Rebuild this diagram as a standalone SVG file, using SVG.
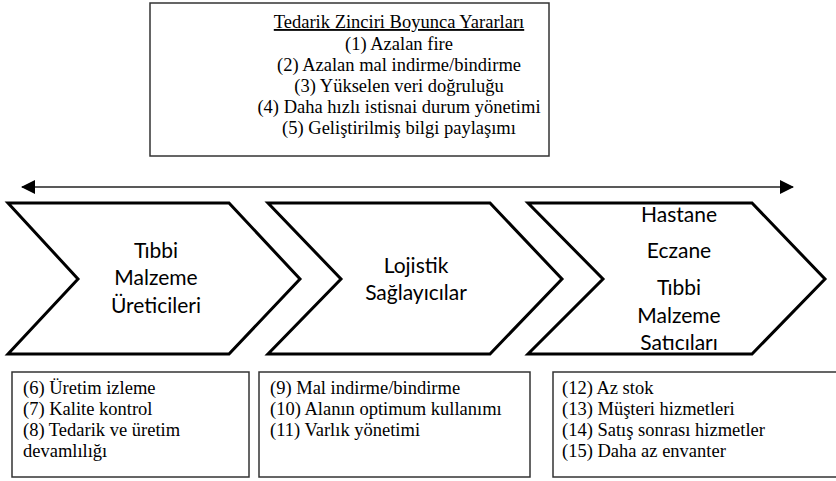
<svg xmlns="http://www.w3.org/2000/svg" width="836" height="481" viewBox="0 0 836 481">
  <defs>
    <marker id="head" viewBox="0 0 14 14" refX="13" refY="7" markerWidth="14" markerHeight="14" markerUnits="userSpaceOnUse" orient="auto-start-reverse">
      <path d="M0,0 L14,7 L0,14 Z" fill="#000"/>
    </marker>
    <style>
      .box { fill: #fff; stroke: #333; stroke-width: 1.5; }
      .chev { fill: #fff; stroke: #000; stroke-width: 3; stroke-linejoin: miter; }
      .top { font-size: 18.5px; text-anchor: middle; fill: #000; }
      .list { font-size: 18.5px; fill: #000; }
      .stage { font-size: 21px; fill: #000; text-anchor: middle; }
    </style>
  </defs>

  <!-- benefits across the supply chain -->
  <g id="benefits" font-family="Liberation Serif, Times New Roman, serif">
    <rect class="box" x="150" y="3" width="399" height="153"/>
    <text class="top" x="399" y="28" text-decoration="underline">Tedarik Zinciri Boyunca Yararları</text>
    <text class="top" x="399" y="50">(1) Azalan fire</text>
    <text class="top" x="399" y="71">(2) Azalan mal indirme/bindirme</text>
    <text class="top" x="399" y="92">(3) Yükselen veri doğruluğu</text>
    <text class="top" x="399" y="113">(4) Daha hızlı istisnai durum yönetimi</text>
    <text class="top" x="399" y="134">(5) Geliştirilmiş bilgi paylaşımı</text>
  </g>

  <!-- two-way flow arrow -->
  <g id="connectors">
    <line x1="22" y1="187" x2="793" y2="187" stroke="#222" stroke-width="1.5" marker-start="url(#head)" marker-end="url(#head)"/>
  </g>

  <!-- stage 1 -->
  <g id="manufacturers" font-family="Lato, Open Sans, sans-serif">
    <path class="chev" d="M8,203 L229,203 L300,279 L229,354 L8,354 L78,279 Z"/>
    <text class="stage" x="156" y="258">Tıbbi</text>
    <text class="stage" x="156" y="285">Malzeme</text>
    <text class="stage" x="156" y="313">Üreticileri</text>
  </g>

  <!-- stage 2 -->
  <g id="logistics" font-family="Lato, Open Sans, sans-serif">
    <path class="chev" d="M268,203 L490,203 L562,279 L490,354 L268,354 L341,279 Z"/>
    <text class="stage" x="416" y="273">Lojistik</text>
    <text class="stage" x="416" y="300">Sağlayıcılar</text>
  </g>

  <!-- stage 3 -->
  <g id="providers" font-family="Lato, Open Sans, sans-serif">
    <path class="chev" d="M528,203 L752,203 L825,279 L752,354 L528,354 L603,279 Z"/>
    <text class="stage" x="679" y="222">Hastane</text>
    <text class="stage" x="679" y="258">Eczane</text>
    <text class="stage" x="679" y="295">Tıbbi</text>
    <text class="stage" x="679" y="323">Malzeme</text>
    <text class="stage" x="679" y="350">Satıcıları</text>
  </g>

  <!-- stage benefits -->
  <g id="benefits-manufacturers" font-family="Liberation Serif, Times New Roman, serif">
    <rect class="box" x="12" y="372" width="237" height="105"/>
    <text class="list" x="23" y="394">(6) Üretim izleme</text>
    <text class="list" x="23" y="415">(7) Kalite kontrol</text>
    <text class="list" x="23" y="436">(8) Tedarik ve üretim</text>
    <text class="list" x="23" y="457">devamlılığı</text>
  </g>

  <g id="benefits-logistics" font-family="Liberation Serif, Times New Roman, serif">
    <rect class="box" x="259" y="372" width="271" height="105"/>
    <text class="list" x="270" y="394">(9) Mal indirme/bindirme</text>
    <text class="list" x="270" y="415">(10) Alanın optimum kullanımı</text>
    <text class="list" x="270" y="436">(11) Varlık yönetimi</text>
  </g>

  <g id="benefits-providers" font-family="Liberation Serif, Times New Roman, serif">
    <rect class="box" x="553" y="372" width="300" height="105"/>
    <text class="list" x="562" y="394">(12) Az stok</text>
    <text class="list" x="562" y="415">(13) Müşteri hizmetleri</text>
    <text class="list" x="562" y="436">(14) Satış sonrası hizmetler</text>
    <text class="list" x="562" y="457">(15) Daha az envanter</text>
  </g>
</svg>
